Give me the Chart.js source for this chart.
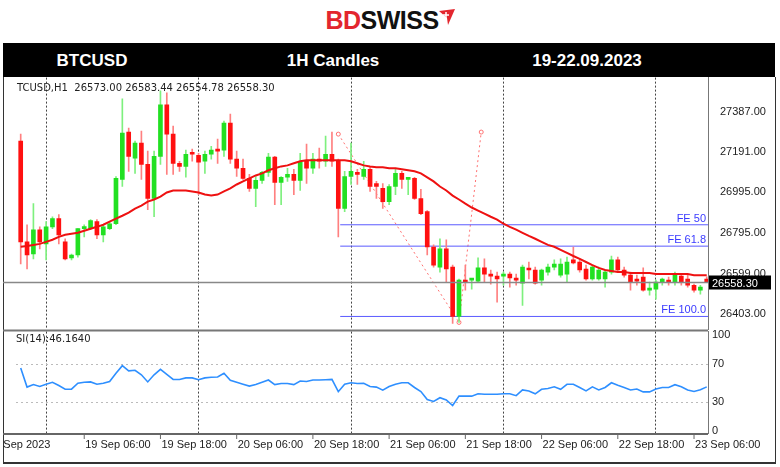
<!DOCTYPE html>
<html>
<head>
<meta charset="utf-8">
<script src="https://cdn.jsdelivr.net/npm/chart.js@4"></script>
<style>
  body { margin: 0; background: #fff; width: 780px; height: 467px; overflow: hidden; position: relative; font-family: "Liberation Sans", Arial, sans-serif; }
  .abs { position: absolute; }
  #logo { left: 0; width: 780px; top: 6px; text-align: center; font: bold 25px "Liberation Sans Narrow", "Liberation Sans", Arial; letter-spacing: -0.5px; }
  #bar { left: 3px; top: 43px; width: 772px; height: 34px; background: #000; color: #fff; font: bold 17px "Liberation Sans Narrow", "Liberation Sans", Arial; }
  #bar span { position: absolute; top: 8px; transform: translateX(-50%); white-space: nowrap; }
  #frame { left: 3px; top: 77px; width: 771px; height: 385px; border-left: 1px solid #333; border-bottom: 2px solid #333; border-right: 1px solid #333; }
  .lbl { font: 10px "DejaVu Sans", sans-serif; color: #222; white-space: nowrap; }
</style>
</head>
<body>
<div id="logo" class="abs"><span style="color:#e3262e">BD</span><span style="color:#111">SWISS</span><svg width="16" height="16" viewBox="0 0 16 16" style="vertical-align:4px"><path d="M0 2 L16 0 L9 16 L8 9 Z" fill="#e3262e"/><path d="M4 6 h6 M7 3 v6" stroke="#fff" stroke-width="1.5"/></svg></div>
<div id="bar" class="abs">
  <span style="left:89px">BTCUSD</span>
  <span style="left:330px">1H Candles</span>
  <span style="left:584px">19-22.09.2023</span>
</div>
<div id="frame" class="abs"></div>
<canvas id="main" class="abs" style="left:3px;top:67px" width="772" height="273"></canvas>
<canvas id="rsi" class="abs" style="left:3px;top:321px" width="772" height="134"></canvas>
<div class="abs lbl" style="left:17px;top:82px">TCUSD,H1&nbsp;&nbsp;26573.00 26583.44 26554.78 26558.30</div>
<div class="abs lbl" style="left:16px;top:333px">SI(14):46.1640</div>
<script>
// hourly candles, 18 Sep 20:00 .. 23 Sep 08:00
const opens = [27244,26754,26695,26813,26744,26827,26867,26754,26676,26690,
  26818,26818,26852,26788,26818,26842,27058,27288,27161,27234,
  27131,26965,27170,27420,27278,27136,27121,27185,27175,27146,
  27180,27200,27200,27332,27156,27112,27063,27014,27053,27092,
  27166,27043,27068,27082,27053,27151,27112,27156,27146,27180,
  27146,26916,27072,27092,27072,27107,27038,27014,26950,27023,
  27087,27058,27063,26965,26901,26729,26631,26720,26631,26391,
  26568,26568,26563,26627,26597,26587,26587,26597,26578,26553,
  26622,26617,26568,26607,26631,26592,26597,26666,26656,26622,
  26573,26573,26573,26607,26666,26617,26592,26573,26582,26519,
  26524,26558,26568,26558,26587,26573,26543,26519,26573];
const highs = [27278,26837,26940,26827,26852,26876,26886,26769,26695,26818,
  26837,26862,26862,26837,26852,27072,27450,27308,27244,27293,
  27195,27195,27489,27479,27317,27146,27200,27205,27185,27195,
  27219,27254,27342,27376,27195,27156,27082,27072,27097,27185,
  27170,27072,27112,27107,27185,27229,27185,27210,27268,27288,
  27156,27097,27234,27107,27146,27121,27048,27038,27033,27107,
  27097,27068,27068,27009,26906,26739,26769,26764,26641,26573,
  26641,26570,26676,26671,26617,26607,26607,26607,26597,26641,
  26656,26631,26622,26646,26666,26671,26680,26729,26671,26641,
  26641,26631,26617,26685,26680,26631,26607,26592,26627,26558,
  26568,26578,26582,26607,26597,26592,26548,26543,26583.44];
const lows = [26646,26622,26671,26720,26666,26818,26744,26666,26666,26680,
  26778,26813,26769,26754,26813,26837,27023,27097,27087,27058,
  26911,26876,27131,27082,27082,27097,27068,27146,26984,27087,
  27156,27136,27170,27136,27072,27058,26999,26925,27038,27072,
  26935,26935,27048,26984,27004,27038,27087,27112,27121,27121,
  26778,26901,27033,27033,27058,26999,26965,26916,26935,26984,
  27014,26984,26960,26886,26690,26631,26607,26558,26357,26362,
  26519,26524,26558,26558,26548,26460,26543,26534,26543,26445,
  26573,26548,26543,26592,26617,26582,26558,26646,26607,26568,
  26568,26568,26534,26597,26607,26582,26519,26543,26514,26494,
  26475,26543,26543,26543,26543,26534,26509,26499,26554.78];
const closes = [26754,26690,26813,26754,26827,26867,26788,26671,26690,26818,
  26827,26857,26788,26827,26842,27063,27283,27170,27234,27131,
  26965,27170,27420,27278,27136,27121,27180,27180,27141,27180,
  27200,27195,27332,27156,27112,27063,27014,27053,27092,27166,
  27043,27068,27082,27053,27141,27112,27156,27146,27180,27146,
  26916,27072,27097,27082,27107,27023,27023,26950,27023,27087,
  27058,27063,26965,26891,26729,26641,26720,26622,26391,26568,
  26558,26570,26627,26597,26587,26573,26597,26578,26568,26631,
  26617,26553,26617,26631,26646,26646,26656,26651,26617,26573,
  26631,26617,26607,26666,26617,26592,26558,26563,26519,26524,
  26558,26573,26558,26592,26558,26543,26519,26534,26558.3];
const ma = [26730,26734,26739,26744,26754,26764,26778,26788,26793,26798,
  26808,26818,26827,26837,26852,26867,26881,26896,26916,26930,
  26950,26960,26974,26994,27004,27004,27004,26999,26994,26984,
  26979,26984,26999,27014,27033,27048,27063,27077,27087,27102,
  27112,27121,27126,27136,27146,27151,27151,27151,27151,27151,
  27151,27151,27146,27136,27126,27121,27117,27117,27112,27112,
  27107,27102,27097,27087,27068,27048,27023,27004,26979,26960,
  26940,26921,26906,26891,26876,26862,26842,26827,26813,26798,
  26783,26769,26754,26739,26730,26715,26700,26685,26671,26656,
  26641,26627,26617,26612,26607,26607,26602,26602,26602,26602,
  26597,26597,26597,26597,26597,26597,26592,26592,26592];
const rsi = [66,46,48.6,46.6,49,51,47.6,43.8,43.8,50,
  51,51.4,49,50,51.8,60.4,68.4,63,63.6,58.8,
  51.4,58.8,64.6,59.4,54,54,55.6,55.6,53.7,55.6,
  56.2,56.6,60.4,53,51,49,47,48.6,51,53.4,
  48.6,49.8,49.8,48.6,52.4,51.8,53.4,53.4,53.7,54,
  41.2,49,50.5,49.8,50,46.6,46,42.8,46.6,48.9,
  50.5,50.5,45.6,41.4,33,31,34.9,32.6,26.7,36.5,
  36.5,36.5,39,38.5,38.5,38.5,39,39,37,43,
  42,39,43.7,44.6,46.3,43.7,48.9,48.9,45.6,42,
  46.3,43,45.6,50.5,47.9,45.6,43,44,41,41,
  44,45.6,45.6,48.5,46.3,43,41.4,43.3,46.2];

const priceTicks = [27387, 27191, 26995, 26795, 26599, 26403];
const rsiTicks = [0, 30, 70, 100];
const dayLines = [4, 28, 52, 76, 100];          // midnights
const xLabels = ['18 Sep 2023','19 Sep 06:00','19 Sep 18:00','20 Sep 06:00','20 Sep 18:00',
  '21 Sep 06:00','21 Sep 18:00','22 Sep 06:00','22 Sep 18:00','23 Sep 06:00'];
const xLabelIdx = [-5.3, 10, 22, 34, 46, 58, 70, 82, 94, 106];
const feNames = ['FE 50', 'FE 61.8', 'FE 100.0'];
const feLevels = [26837, 26733, 26391];
const feStart = 50.3;
const fibX = [50, 69, 72.5];
const fibY = [27278, 26362, 27288];
const lastPrice = 26558.3;

const XMIN = -0.74, XMAX = 108.2;
const idx = closes.map((_, i) => i);
const up = idx.map(i => closes[i] >= opens[i]);
const FONT = '11px "Liberation Sans", Arial, sans-serif';

const drawExtras = {
  id: 'extras',
  afterDatasetsDraw(chart) {
    const c = chart.ctx, x = chart.scales.x, y = chart.scales.y;
    c.save();
    c.font = FONT;
    c.fillStyle = '#3a3aff';
    c.textAlign = 'right';
    feNames.forEach((n, i) => c.fillText(n, x.right - 2, y.getPixelForValue(feLevels[i]) - 3));
    const py = Math.round(y.getPixelForValue(lastPrice)) + 0.5;
    c.strokeStyle = '#888'; c.lineWidth = 1.5;
    c.beginPath(); c.moveTo(0, py); c.lineTo(x.right, py); c.stroke();
    c.fillStyle = '#000';
    c.fillRect(x.right + 1, py - 7, 62, 14);
    c.fillStyle = '#fff'; c.textAlign = 'left'; c.textBaseline = 'middle';
    c.fillText(lastPrice.toFixed(2), x.right + 4, py + 1);
    c.strokeStyle = '#777'; c.lineWidth = 2;
    c.beginPath(); c.moveTo(0, y.bottom + 1); c.lineTo(x.right, y.bottom + 1); c.stroke();
    c.restore();
  }
};

const xScale = {
  type: 'linear', min: XMIN, max: XMAX, offset: false,
  afterBuildTicks: s => { s.ticks = dayLines.map(v => ({ value: v })); },
  afterFit: s => { s.height = 0; },
  ticks: { display: false }, grid: { color: '#444', drawTicks: false, offset: false },
  border: { display: false, dash: [2, 2] }
};

new Chart(document.getElementById('main'), {
  type: 'bar',
  data: {
    datasets: [
      { type: 'line', data: fibX.map((v, i) => ({ x: v, y: fibY[i] })), borderColor: '#ff7070', borderWidth: 1,
        borderDash: [2, 3], pointRadius: 2, pointBackgroundColor: '#fff', pointBorderColor: '#ff7070', order: 5 },
      ...feLevels.map(l => ({ type: 'line', data: [{ x: feStart, y: l }, { x: XMAX, y: l }], borderColor: '#5a5aff',
        borderWidth: 1, pointRadius: 0, order: 4 })),
      { data: idx.map(i => ({ x: i, y: [lows[i], highs[i]] })), backgroundColor: idx.map(i => up[i] ? '#7ef07e' : '#ff8080'),
        barThickness: 1, grouped: false, order: 3 },
      { data: idx.map(i => ({ x: i, y: [opens[i], closes[i]] })), backgroundColor: idx.map(i => up[i] ? '#22e022' : '#ff1010'),
        barThickness: 4, minBarLength: 2, grouped: false, order: 2 },
      { type: 'line', data: idx.map(i => ({ x: i, y: ma[i] })), borderColor: '#ee1111', borderWidth: 2,
        pointRadius: 0, order: 1 }
    ]
  },
  options: {
    responsive: false, animation: false,
    layout: { padding: { left: 13 } },
    plugins: { legend: { display: false }, tooltip: { enabled: false } },
    scales: {
      x: xScale,
      y: { position: 'right', min: 26328, max: 27553,
        afterBuildTicks: s => { s.ticks = priceTicks.map(v => ({ value: v })); },
        afterFit: s => { s.width = 67; },
        ticks: { color: '#222', font: { size: 11, family: 'Liberation Sans' }, padding: 4, callback: v => v.toFixed(2) },
        grid: { display: false }, border: { color: '#777' } }
    }
  },
  plugins: [drawExtras]
});

const drawXLabels = {
  id: 'xlabels',
  afterDraw(chart) {
    const c = chart.ctx, x = chart.scales.x, y = chart.scales.y;
    c.save();
    c.strokeStyle = '#666'; c.lineWidth = 2;
    c.beginPath(); c.moveTo(0, y.bottom + 1); c.lineTo(x.right, y.bottom + 1); c.stroke();
    c.font = FONT;
    c.fillStyle = '#222'; c.textBaseline = 'top';
    c.lineWidth = 1;
    xLabelIdx.forEach((v, i) => {
      const px = x.getPixelForValue(v);
      c.beginPath(); c.moveTo(px, y.bottom + 2); c.lineTo(px, y.bottom + 6); c.stroke();
      c.fillText(xLabels[i], px + 1, y.bottom + 6);
    });
    c.restore();
  }
};

new Chart(document.getElementById('rsi'), {
  type: 'line',
  data: { datasets: [{ data: idx.map(i => ({ x: i, y: rsi[i] })), borderColor: '#2e8fff', borderWidth: 1.6, pointRadius: 0 }] },
  options: {
    responsive: false, animation: false,
    layout: { padding: { left: 13, bottom: 22 } },
    plugins: { legend: { display: false }, tooltip: { enabled: false } },
    scales: {
      x: xScale,
      y: { position: 'right', min: -2, max: 104,
        afterBuildTicks: s => { s.ticks = rsiTicks.map(v => ({ value: v })); },
        afterFit: s => { s.width = 67; },
        ticks: { color: '#222', font: { size: 11, family: 'Liberation Sans' }, padding: 4 },
        grid: { color: ctx => (ctx.tick && (ctx.tick.value === 30 || ctx.tick.value === 70)) ? '#bbb' : 'rgba(0,0,0,0)', drawTicks: false },
        border: { color: '#777', dash: [2, 3] } }
    }
  },
  plugins: [drawXLabels]
});
</script>
</body>
</html>
